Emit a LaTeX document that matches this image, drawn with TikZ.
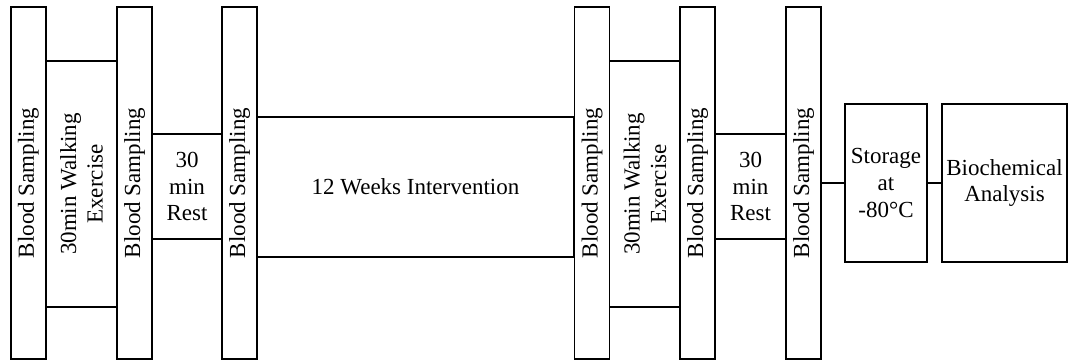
\documentclass[tikz,border=0pt]{standalone}
\usepackage{fontspec}
\setmainfont{Liberation Serif}
\usetikzlibrary{positioning}

\begin{document}
\begin{tikzpicture}[x=0.5pt,y=-0.5pt,line width=0.6pt,
	every node/.style={font=\fontsize{11.5}{13.3}\selectfont,align=center,inner sep=1pt},
	sampbox/.style={draw,rotate=90,minimum width=176pt,minimum height=17.5pt},
	walkbox/.style={draw,rotate=90,minimum width=123pt,minimum height=35.5pt},
	restbox/.style={draw,minimum width=35pt,minimum height=52.5pt},
	labbox/.style={draw,minimum height=79pt}]
		\useasboundingbox (0,0) rectangle (1068,360);
		\node[sampbox] (bs1) at (28.5,183) {Blood Sampling};
		\node[walkbox] (walk1) at (81.5,184) {30min Walking\\Exercise};
		\node[sampbox] (bs2) at (134.5,183) {Blood Sampling};
		\node[restbox] (rest1) at (187,186.5) {30\\min\\Rest};
		\node[sampbox] (bs3) at (239.5,183) {Blood Sampling};
		\node[draw,minimum width=158.5pt,minimum height=70pt] (interv) at (415.5,187) {12 Weeks Intervention};
		\node[sampbox] (bs4) at (592,183) {Blood Sampling};
		\node[walkbox] (walk2) at (645,184) {30min Walking\\Exercise};
		\node[sampbox] (bs5) at (697.5,183) {Blood Sampling};
		\node[restbox] (rest2) at (750.5,186.5) {30\\min\\Rest};
		\node[sampbox] (bs6) at (803.5,183) {Blood Sampling};
		\node[labbox,minimum width=41pt] (store) at (886,183) {Storage\\at\\-80°C};
		\node[labbox,minimum width=62.5pt] (bio) at (1004.5,183) {Biochemical\\Analysis};
		\draw (bs6) -- (store);
		\draw (store) -- (bio);
	\end{tikzpicture}
\end{document}
